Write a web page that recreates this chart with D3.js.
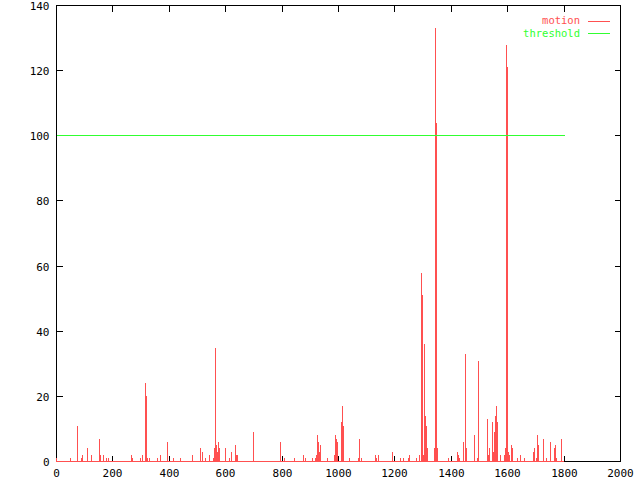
<!DOCTYPE html>
<html>
<head>
<meta charset="utf-8">
<script src="https://cdn.jsdelivr.net/npm/d3@7"></script>
<style>
  body { margin: 0; background: #fff; }
  svg { display: block; }
  text { font-family: "DejaVu Sans Mono", "Liberation Mono", monospace; font-size: 11px; }
  .legend text { font-size: 10.5px; }
</style>
</head>
<body>
<div id="chart"></div>
<script>
// frame numbers with non-zero motion, and the motion value at each
const frames = [0, 51, 76, 87, 92, 109, 124, 151, 155, 166, 177, 184, 265, 271, 297, 304, 315, 319, 323, 329,
  358, 368, 393, 414, 441, 482, 510, 517, 530, 542, 556, 560, 563, 567, 570, 574, 578, 599, 613, 619,
  622, 634, 638, 641, 698, 794, 808, 843, 875, 882, 907, 918, 921, 925, 928, 932, 935, 960, 985, 989,
  992, 996, 1010, 1013, 1017, 1038, 1070, 1074, 1081, 1131, 1135, 1141, 1191, 1220, 1230, 1248, 1251, 1275, 1277, 1287,
  1294, 1297, 1301, 1305, 1308, 1311, 1315, 1340, 1343, 1347, 1351, 1389, 1421, 1425, 1429, 1443, 1450, 1453, 1482, 1492,
  1496, 1528, 1531, 1535, 1546, 1549, 1553, 1556, 1560, 1563, 1574, 1588, 1592, 1595, 1599, 1602, 1606, 1613, 1617, 1634,
  1645, 1659, 1691, 1694, 1701, 1705, 1709, 1726, 1737, 1751, 1765, 1768, 1772, 1790]
const motion = [1, 1, 11, 1, 2, 4, 2, 7, 2, 2, 1, 1, 2, 1, 1, 2, 24, 20, 1, 1,
  1, 2, 6, 1, 1, 2, 4, 3, 1, 2, 1, 4, 35, 5, 3, 6, 4, 4, 1, 3,
  3, 5, 2, 2, 9, 6, 1, 1, 2, 1, 1, 1, 2, 8, 6, 3, 5, 1, 2, 8,
  7, 6, 12, 17, 11, 1, 1, 7, 1, 2, 1, 2, 3, 1, 1, 1, 2, 1, 1, 2,
  58, 51, 2, 36, 14, 11, 4, 4, 133, 104, 4, 1, 3, 2, 1, 6, 33, 4, 8, 1,
  31, 13, 2, 4, 12, 3, 9, 14, 17, 12, 2, 2, 4, 128, 121, 3, 2, 5, 4, 1,
  2, 1, 3, 4, 1, 8, 5, 7, 1, 6, 4, 5, 1, 7]
const frameCount = 1800
const threshold = 100
const xTicks = [0, 200, 400, 600, 800, 1000, 1200, 1400, 1600, 1800, 2000]
const yTicks = [0, 20, 40, 60, 80, 100, 120, 140]
const seriesNames = ["motion", "threshold"]

const motionColor = "#ff5050"
const thresholdColor = "#30ff30"

let margin = {top: 5.5, right: 19.5, bottom: 18.5, left: 56.5},
    width = 640, height = 480

let svg = d3.select("#chart").append("svg")
    .attr("width", width)
    .attr("height", height)
    .attr("shape-rendering", "crispEdges")

let x = d3.scaleLinear().domain([0, 2000]).range([margin.left, width - margin.right])
let y = d3.scaleLinear().domain([0, 140]).range([height - margin.bottom, margin.top])

const px = v => Math.round(v - 0.5) + 0.5

// frame
svg.append("rect")
    .attr("x", x(0)).attr("y", y(140))
    .attr("width", x(2000) - x(0)).attr("height", y(0) - y(140))
    .attr("fill", "none").attr("stroke", "#000")

// ticks, inward on all four sides
const tickLen = 6
xTicks.forEach(t => {
    let xx = px(x(t))
    svg.append("line").attr("x1", xx).attr("x2", xx).attr("y1", y(0)).attr("y2", y(0) - tickLen).attr("stroke", "#000")
    svg.append("line").attr("x1", xx).attr("x2", xx).attr("y1", y(140)).attr("y2", y(140) + tickLen).attr("stroke", "#000")
    svg.append("text").attr("x", xx).attr("y", y(0) + 15).attr("text-anchor", "middle").text(t)
})
yTicks.forEach(t => {
    let yy = px(y(t))
    svg.append("line").attr("x1", x(0)).attr("x2", x(0) + tickLen).attr("y1", yy).attr("y2", yy).attr("stroke", "#000")
    svg.append("line").attr("x1", x(2000)).attr("x2", x(2000) - tickLen).attr("y1", yy).attr("y2", yy).attr("stroke", "#000")
    svg.append("text").attr("x", x(0) - 7).attr("y", yy + 4).attr("text-anchor", "end").text(t)
})

// motion impulses
svg.append("line")
    .attr("x1", x(0)).attr("x2", x(frameCount))
    .attr("y1", y(0)).attr("y2", y(0))
    .attr("stroke", motionColor)

svg.selectAll(".impulse").data(frames)
    .enter()
    .append("line")
    .attr("class", "impulse")
    .attr("x1", d => px(x(d)))
    .attr("x2", d => px(x(d)))
    .attr("y1", y(0))
    .attr("y2", (d, i) => y(motion[i]))
    .attr("stroke", motionColor)

// threshold
svg.append("rect")
    .attr("x", Math.round(x(0))).attr("width", Math.round(x(frameCount) - x(0)))
    .attr("y", Math.round(y(threshold)) - 1).attr("height", 1)
    .attr("fill", thresholdColor)

// legend
const legendColors = [motionColor, thresholdColor]
let legend = svg.append("g").attr("class", "legend")
seriesNames.forEach((name, i) => {
    let ly = 20.5 + i * 12.5
    legend.append("text").attr("x", 580).attr("y", ly + 3.5).attr("text-anchor", "end")
        .attr("fill", legendColors[i]).text(name)
    legend.append("line").attr("x1", 588).attr("x2", 610).attr("y1", Math.round(ly) + 0.5).attr("y2", Math.round(ly) + 0.5)
        .attr("stroke", legendColors[i])
})
</script>
</body>
</html>
